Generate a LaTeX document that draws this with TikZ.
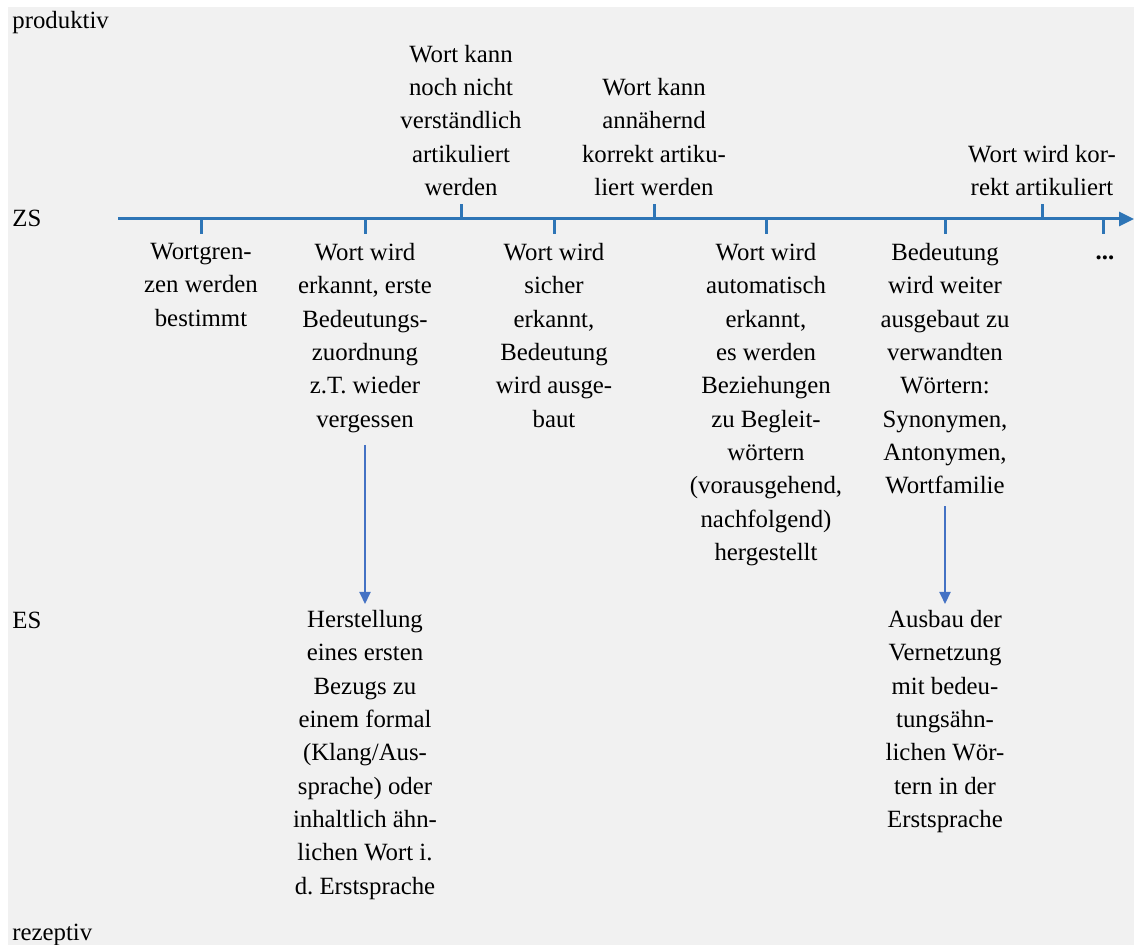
\documentclass[tikz,border=0pt]{standalone}
\usepackage{fontspec}
\setmainfont{Liberation Serif}
\usetikzlibrary{positioning, arrows.meta}
\definecolor{axisblue}{HTML}{2E75B6}
\definecolor{arrowblue}{HTML}{4472C4}
\definecolor{bggrey}{HTML}{F1F1F1}
\frenchspacing
\tikzstyle{every node}=[font=\fontsize{12.4}{16.65}\selectfont, inner sep=0pt]
\tikzstyle{stage}=[align=center]
\tikzstyle{side}=[anchor=base west]
\tikzstyle{tickline}=[draw=axisblue, line width=1.5pt]
\tikzstyle{flow}=[draw=arrowblue, line width=1pt, -{Triangle[length=6pt,width=5.5pt]}, shorten <=6pt, shorten >=3pt]

\begin{document}
\begin{tikzpicture}[x=0.5pt, y=-0.5pt, node distance=4.5pt]
            \fill[bggrey] (8,7) rectangle (1134,945);
            \useasboundingbox (0,0) rectangle (1134,945);
            \node[side] (prod) at (12,29) {produktiv};
            \node[side] (zs) at (12,227) {ZS};
            \node[side] (es) at (12,628) {ES};
            \node[side] (rez) at (12,940) {rezeptiv};
            \coordinate (start) at (118,219);
            \coordinate (end) at (1134,219);
            \draw[axisblue, line width=1.5pt, -{Triangle[length=7.5pt,width=7pt]}] (start) -- (end);
            \foreach \x/\n in {201/d1, 365/d2, 554/d3, 766/d4, 945/d5, 1103/d6}
                \draw[tickline] (\x,219) -- ++(0,15) coordinate (\n);
            \foreach \x/\n in {461/u1, 654/u2, 1042/u3}
                \draw[tickline] (\x,219) -- ++(0,-15) coordinate (\n);
            \node[stage, above=4pt of u1] (a1) {Wort kann\\noch nicht\\verständlich\\artikuliert\\werden};
            \node[stage, above=4pt of u2] (a2) {Wort kann\\annähernd\\korrekt artiku-\\liert werden};
            \node[stage, above=4pt of u3] (a3) {Wort wird kor-\\rekt artikuliert};
            \node[stage, below=of d1] (z1) {Wortgren-\\zen werden\\bestimmt};
            \node[stage, below=of d2] (z2) {Wort wird\\erkannt, erste\\Bedeutungs-\\zuordnung\\z.T. wieder\\vergessen};
            \node[stage, below=of d3] (z3) {Wort wird\\sicher\\erkannt,\\Bedeutung\\wird ausge-\\baut};
            \node[stage, below=of d4] (z4) {Wort wird\\automatisch\\erkannt,\\es werden\\Beziehungen\\zu Begleit-\\wörtern\\(vorausgehend,\\nachfolgend)\\hergestellt};
            \node[stage, below=of d5] (z5) {Bedeutung\\wird weiter\\ausgebaut zu\\verwandten\\Wörtern:\\Synonymen,\\Antonymen,\\Wortfamilie};
            \node[stage, below=of d6, xshift=1pt] (z6) {\vphantom{W}\textbf{...}};
            \node[stage, anchor=north] (e2) at (365,610) {Herstellung\\eines ersten\\Bezugs zu\\einem formal\\(Klang/Aus-\\sprache) oder\\inhaltlich ähn-\\lichen Wort i.\\d. Erstsprache};
            \node[stage, anchor=north] (e5) at (945,610) {Ausbau der\\Vernetzung\\mit bedeu-\\tungsähn-\\lichen Wör-\\tern in der\\Erstsprache};
            \draw[flow] (z2) -- (e2);
            \draw[flow] (z5) -- (e5);
        \end{tikzpicture}
\end{document}
